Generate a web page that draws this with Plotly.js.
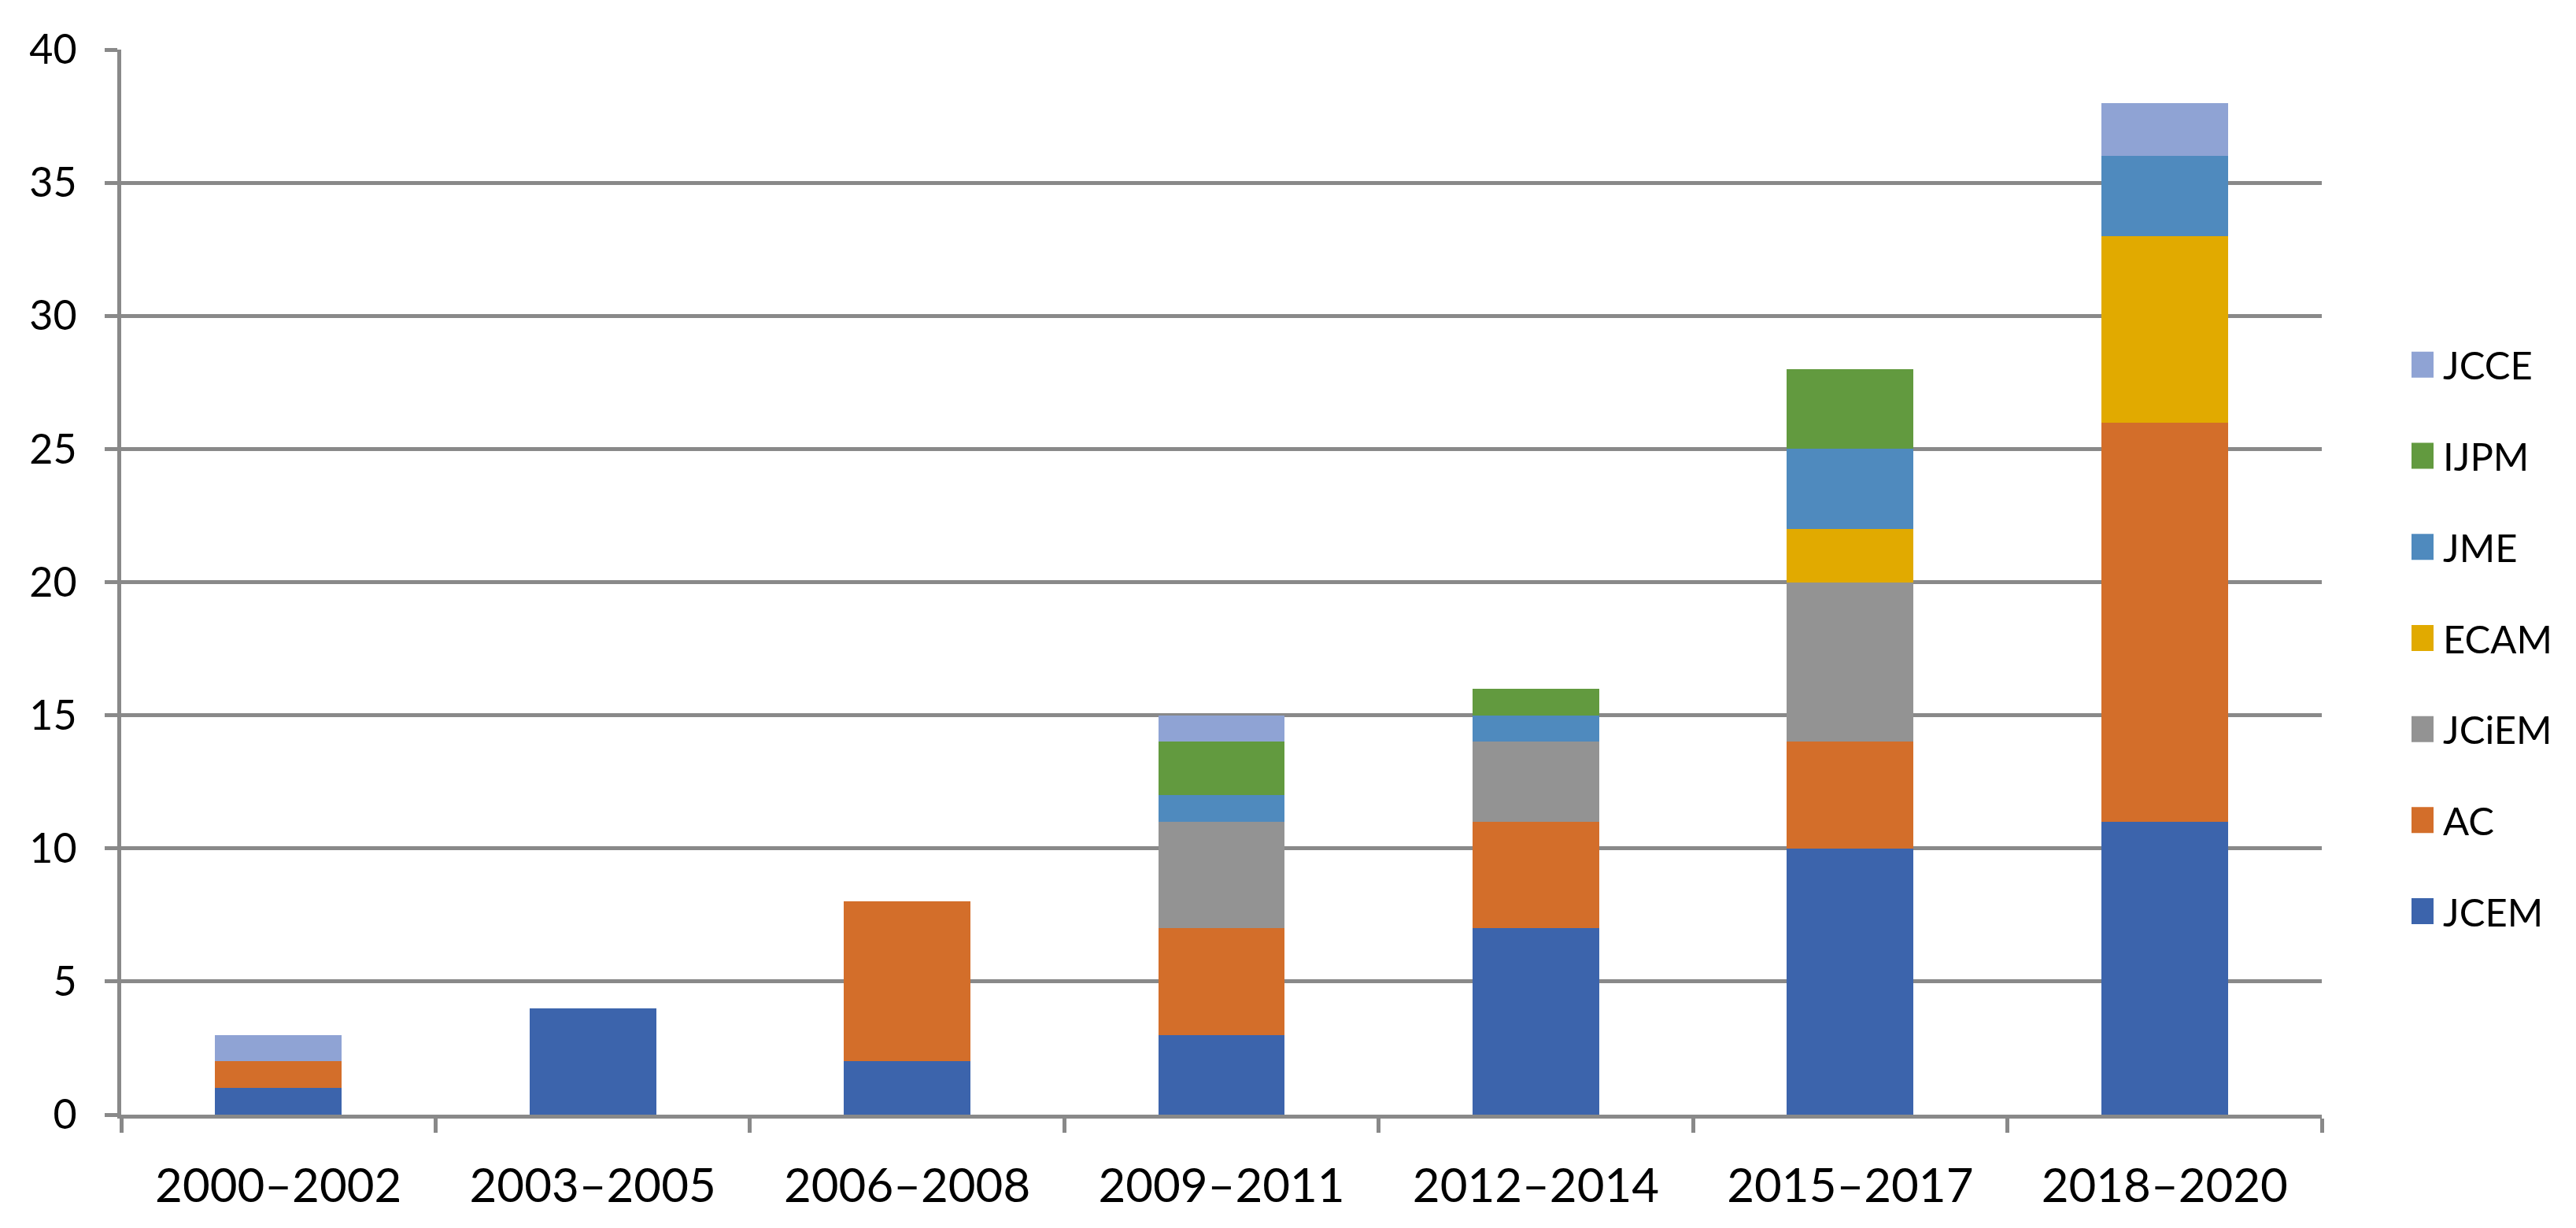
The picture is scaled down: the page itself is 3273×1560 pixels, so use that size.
<!DOCTYPE html>
<html><head><meta charset="utf-8">
<script src="https://cdn.plot.ly/plotly-3.0.1.min.js"></script>
<style>html,body{margin:0;padding:0;background:#fff;}#chart{width:3273px;height:1560px;}</style>
</head><body><div id="chart"></div>
<script>
const categories = ['2000–2002','2003–2005','2006–2008','2009–2011','2012–2014','2015–2017','2018–2020'];
const JCEM  = [1, 4, 2, 3, 7, 10, 11];
const AC    = [1, 0, 6, 4, 4, 4, 15];
const JCiEM = [0, 0, 0, 4, 3, 6, 0];
const ECAM  = [0, 0, 0, 0, 0, 2, 7];
const JME   = [0, 0, 0, 1, 1, 3, 3];
const IJPM  = [0, 0, 0, 2, 1, 3, 0];
const JCCE  = [1, 0, 0, 1, 0, 0, 2];
const seriesNames  = ['JCEM', 'AC', 'JCiEM', 'ECAM', 'JME', 'IJPM', 'JCCE'];
const seriesValues = [JCEM, AC, JCiEM, ECAM, JME, IJPM, JCCE];
const seriesColors = ['#3C64AC', '#D36E2A', '#939393', '#E1AA00', '#4F8ABE', '#629A3F', '#8FA3D4'];
const yTicks = [0, 5, 10, 15, 20, 25, 30, 35, 40];

const FONT = 'Lato';
const GRID = '#898989';

const traces = seriesNames.map((name, i) => ({
  type: 'bar',
  name: name,
  x: categories,
  y: seriesValues[i],
  legendgroup: name,
  legendrank: 100 - i,
  marker: {color: seriesColors[i], line: {width: 0}},
  hoverinfo: 'none'
}));

const layout = {
  width: 3273, height: 1560,
  paper_bgcolor: '#ffffff', plot_bgcolor: '#ffffff',
  margin: {l: 154, r: 323, t: 63, b: 144, pad: 0},
  barmode: 'stack',
  bargap: 0.597,
  font: {family: FONT, size: 52, color: '#000000'},
  xaxis: {
    type: 'category',
    tickson: 'boundaries',
    ticks: 'outside', ticklen: 18, tickwidth: 5, tickcolor: GRID,
    showline: true, linecolor: GRID, linewidth: 5,
    showgrid: false, zeroline: false,
    tickfont: {family: FONT, size: 60, color: '#000000'},
    ticklabelstandoff: 34
  },
  yaxis: {
    range: [0, 40],
    tickmode: 'array', tickvals: yTicks, ticktext: yTicks.map(String),
    ticks: 'outside', ticklen: 16, tickwidth: 5, tickcolor: GRID,
    showline: true, linecolor: GRID, linewidth: 5,
    showgrid: true, gridcolor: GRID, gridwidth: 5,
    zeroline: false,
    tickfont: {family: FONT, size: 52, color: '#000000'},
    ticklabelstandoff: 25
  },
  showlegend: true,
  legend: {
    xref: 'container', yref: 'container',
    x: 3064 / 3273, xanchor: 'left',
    y: 1 - 425 / 1560, yanchor: 'top',
    traceorder: 'grouped',
    tracegroupgap: 49,
    font: {family: FONT, size: 49, color: '#000000'},
    bgcolor: 'rgba(0,0,0,0)', borderwidth: 0
  }
};

function bigLegendSymbols(gd) {
  gd.querySelectorAll('.legend .legendpoints path').forEach(p => {
    p.setAttribute('d', 'M-25,-16.5h33v33h-33z');
  });
}

Plotly.newPlot('chart', traces, layout, {staticPlot: true, responsive: false}).then(gd => {
  bigLegendSymbols(gd);
  gd.on('plotly_afterplot', () => bigLegendSymbols(gd));
  [0, 50, 200, 600, 1200].forEach(t => setTimeout(() => bigLegendSymbols(gd), t));
});
</script>
</body></html>
